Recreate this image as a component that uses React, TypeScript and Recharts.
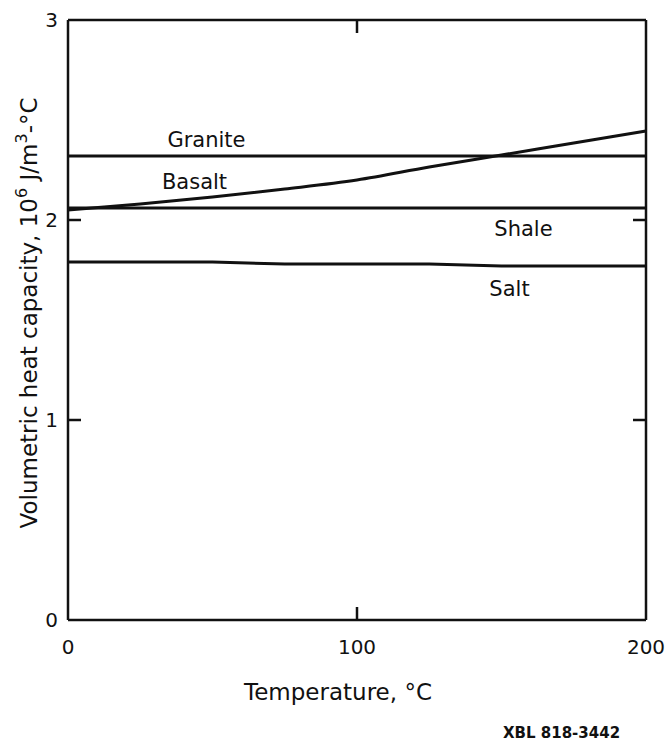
import { LineChart, Line, XAxis, YAxis, Label, ReferenceLine } from 'recharts';

// Volumetric heat capacity (10^6 J/m^3-°C) against temperature (°C)
const temperature = [0, 25, 50, 75, 100, 125, 150, 175, 200];
const granite = [2.32, 2.32, 2.32, 2.32, 2.32, 2.32, 2.32, 2.32, 2.32];
const basalt = [2.05, 2.08, 2.115, 2.155, 2.2, 2.265, 2.325, 2.385, 2.445];
const shale = [2.06, 2.06, 2.06, 2.06, 2.06, 2.06, 2.06, 2.06, 2.06];
const salt = [1.79, 1.79, 1.79, 1.78, 1.78, 1.78, 1.77, 1.77, 1.77];

const xTicks = [0, 100, 200];
const yTicks = [0, 1, 2, 3];
const innerXTicks = [100];
const innerYTicks = [1, 2];

const X_MIN = 0;
const X_MAX = 200;
const Y_MIN = 0;
const Y_MAX = 3;

const data = temperature.map((t, i) => ({
  t,
  granite: granite[i],
  basalt: basalt[i],
  shale: shale[i],
  salt: salt[i],
}));

const FONT = '"DejaVu Sans", "Noto Sans", sans-serif';
const INK = '#111';
// inward tick mark lengths, in axis units (about 13px)
const X_MARK = 0.065;
const Y_MARK = 4.5;

// name written next to one point of a curve
function curveName(text: string, at: number, dx: number, dy: number) {
  return (props: any) => {
    if (props.index !== at) return null;
    return (
      <text
        key={text}
        x={props.x + dx}
        y={props.y + dy}
        textAnchor="middle"
        fontFamily={FONT}
        fontSize={21}
        fill={INK}
      >
        {text}
      </text>
    );
  };
}

function YTitle() {
  const cx = 37;
  const cy = 313;
  return (
    <text
      x={cx}
      y={cy}
      transform={`rotate(-90 ${cx} ${cy})`}
      textAnchor="middle"
      fontFamily={FONT}
      fontSize={23}
      fill={INK}
    >
      Volumetric heat capacity, 10
      <tspan dy={-10} fontSize={16}>6</tspan>
      <tspan dy={10}> J/m</tspan>
      <tspan dy={-10} fontSize={16}>3</tspan>
      <tspan dy={10}>-°C</tspan>
    </text>
  );
}

function XTitle() {
  return (
    <text x={338} y={700} textAnchor="middle" fontFamily={FONT} fontSize={23} fill={INK}>
      Temperature, °C
    </text>
  );
}

const lineStyle = { stroke: INK, strokeWidth: 3, dot: false, isAnimationActive: false } as const;
const axisLine = { stroke: INK, strokeWidth: 2.5 };
const tickText = { fill: INK, fontSize: 20, fontFamily: FONT };
const markStyle = { stroke: INK, strokeWidth: 2.5, ifOverflow: 'visible' } as const;

export default function App() {
  return (
    <div style={{ position: 'absolute', left: 0, top: 0, width: 668, height: 749, background: '#fff' }}>
      <LineChart width={668} height={749} data={data} margin={{ top: 20, right: 22, bottom: 49, left: 0 }}>
        <XAxis
          dataKey="t"
          type="number"
          domain={[X_MIN, X_MAX]}
          ticks={xTicks}
          height={80}
          axisLine={axisLine}
          tickLine={false}
          tickSize={0}
          tickMargin={20}
          tick={tickText}
        >
          <Label content={<XTitle />} />
        </XAxis>
        <YAxis
          type="number"
          domain={[Y_MIN, Y_MAX]}
          ticks={yTicks}
          width={68}
          axisLine={axisLine}
          tickLine={false}
          tickSize={0}
          tickMargin={10}
          tick={tickText}
        >
          <Label content={<YTitle />} />
        </YAxis>

        {/* top and right sides of the frame */}
        <XAxis
          xAxisId="top"
          dataKey="t"
          orientation="top"
          mirror
          type="number"
          domain={[X_MIN, X_MAX]}
          axisLine={axisLine}
          tickLine={false}
          tick={false}
        />
        <YAxis
          yAxisId="right"
          orientation="right"
          mirror
          type="number"
          domain={[Y_MIN, Y_MAX]}
          axisLine={axisLine}
          tickLine={false}
          tick={false}
        />

        {/* tick marks pointing into the plot on all four sides */}
        {innerXTicks.map((v) => (
          <ReferenceLine key={`b${v}`} segment={[{ x: v, y: Y_MIN }, { x: v, y: Y_MIN + X_MARK }]} {...markStyle} />
        ))}
        {innerXTicks.map((v) => (
          <ReferenceLine key={`t${v}`} segment={[{ x: v, y: Y_MAX }, { x: v, y: Y_MAX - X_MARK }]} {...markStyle} />
        ))}
        {innerYTicks.map((v) => (
          <ReferenceLine key={`l${v}`} segment={[{ x: X_MIN, y: v }, { x: X_MIN + Y_MARK, y: v }]} {...markStyle} />
        ))}
        {innerYTicks.map((v) => (
          <ReferenceLine key={`r${v}`} segment={[{ x: X_MAX, y: v }, { x: X_MAX - Y_MARK, y: v }]} {...markStyle} />
        ))}

        <Line dataKey="granite" type="linear" {...lineStyle} label={curveName('Granite', 2, -6, -9)} />
        <Line dataKey="basalt" type="monotone" {...lineStyle} label={curveName('Basalt', 2, -18, -8)} />
        <Line dataKey="shale" type="linear" {...lineStyle} label={curveName('Shale', 6, 22, 28)} />
        <Line dataKey="salt" type="linear" {...lineStyle} label={curveName('Salt', 6, 8, 30)} />
      </LineChart>
      <div
        style={{
          position: 'absolute',
          left: 503,
          top: 724,
          fontFamily: FONT,
          fontWeight: 'bold',
          fontSize: 15,
          color: INK,
        }}
      >
        XBL 818-3442
      </div>
    </div>
  );
}
